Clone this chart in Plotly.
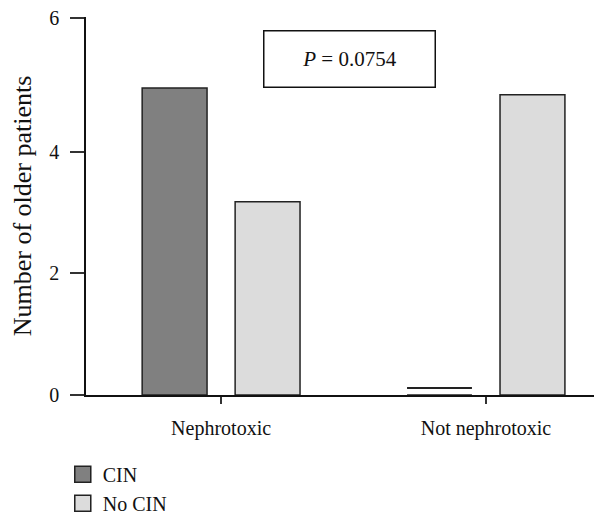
import plotly.graph_objects as go

# ---- data ----
categories = ["Nephrotoxic", "Not nephrotoxic"]
cin_values = [5.05, 0.0]
no_cin_values = [3.18, 4.94]
y_tick_labels = ["0", "2", "4", "6"]
y_tick_values = [0, 2, 4, 6.2]   # the top tick of the reference sits a little high
p_value_text = "<i>P</i> = 0.0754"

# style
FONT = "Liberation Serif"
CIN_COLOR = "#808080"
NOCIN_COLOR = "#dcdcdc"
EDGE = "#222222"
ZERO_FLOOR = 0.105      # where a zero-count bar is drawn as a thin line
ZERO_THICK = 0.022
AXIS_TOP = 6.22

fig = go.Figure()

fig.add_trace(go.Bar(
    x=categories, y=cin_values, name="CIN", offsetgroup="cin",
    marker=dict(color=CIN_COLOR, line=dict(color=EDGE, width=1.5)),
    showlegend=False,
))
# zero-count bars rendered as a thin horizontal line
zero_x = [c for c, v in zip(categories, cin_values) if v == 0]
fig.add_trace(go.Bar(
    x=zero_x, y=[ZERO_THICK] * len(zero_x), base=[ZERO_FLOOR] * len(zero_x),
    offsetgroup="cin", marker=dict(color=EDGE, line=dict(width=0)),
    showlegend=False, hoverinfo="skip",
))
fig.add_trace(go.Bar(
    x=categories, y=no_cin_values, name="No CIN", offsetgroup="nocin",
    marker=dict(color=NOCIN_COLOR, line=dict(color=EDGE, width=1.5)),
    showlegend=False,
))

# legend entries
for name, col in [("CIN", CIN_COLOR), ("No CIN", NOCIN_COLOR)]:
    fig.add_trace(go.Scatter(
        x=[None], y=[None], mode="markers", name=name,
        marker=dict(symbol="square", size=20, color=col,
                    line=dict(color=EDGE, width=1.5)),
    ))

fig.update_layout(
    width=594, height=506,
    margin=dict(l=78, r=0, t=9, b=119, autoexpand=False),
    paper_bgcolor="white", plot_bgcolor="white",
    font=dict(family=FONT, size=20, color="#111111"),
    barmode="group", bargap=0.298, bargroupgap=0.302,
    legend=dict(x=-0.045, y=-0.158, xanchor="left", yanchor="top",
                font=dict(size=20, family=FONT), itemsizing="trace",
                bgcolor="rgba(0,0,0,0)", tracegroupgap=0),
    annotations=[dict(
        text=p_value_text, xref="paper", yref="paper",
        x=0.5116, y=0.889, xanchor="center", yanchor="middle",
        showarrow=False, font=dict(size=21, family=FONT),
        width=170, height=55, bordercolor="#111111", borderwidth=1.5,
        borderpad=0, bgcolor="white",
    )],
)

fig.update_xaxes(
    type="category", range=[-0.51, 1.438], automargin=False,
    showline=True, linecolor="#111111", linewidth=1.5,
    ticks="outside", ticklen=7, tickwidth=1.5, tickcolor="#333333",
    ticklabelstandoff=7, showgrid=False, zeroline=False,
    tickfont=dict(family=FONT, size=20),
)
fig.update_yaxes(
    type="linear", range=[0, AXIS_TOP], tickmode="array",
    tickvals=y_tick_values, ticktext=y_tick_labels,
    automargin=False, ticklabeloverflow="allow",
    showline=True, linecolor="#111111", linewidth=1.5,
    ticks="outside", ticklen=14, tickwidth=1.5, tickcolor="#333333",
    ticklabelstandoff=7, showgrid=False, zeroline=False,
    tickfont=dict(family=FONT, size=20),
    title=dict(text="Number of older patients",
               font=dict(size=26, family=FONT), standoff=12),
)

fig.write_html("out.html")
